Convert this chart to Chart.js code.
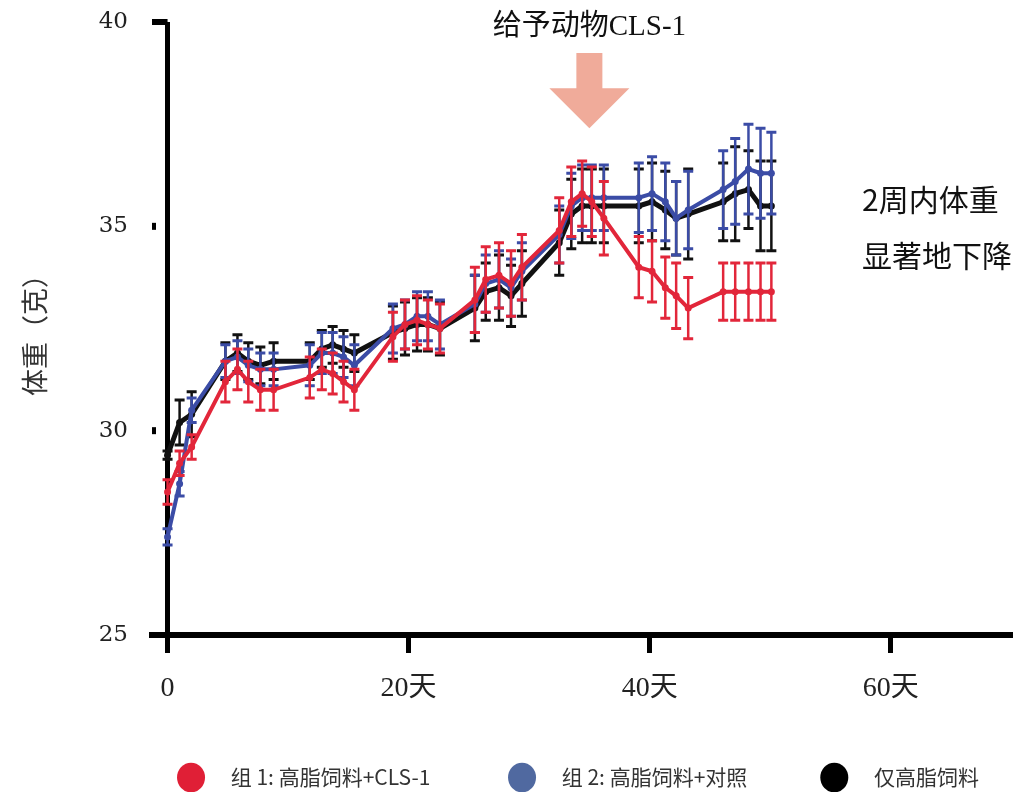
<!DOCTYPE html>
<html>
<head>
<meta charset="utf-8">
<script src="https://cdn.jsdelivr.net/npm/chart.js@4.4.0/dist/chart.umd.min.js"></script>
<style>
html, body { margin: 0; padding: 0; background: #fff; }
#wrap { width: 1015px; height: 792px; position: relative; }
</style>
</head>
<body>
<div id="wrap"><canvas id="chart"></canvas></div>
<script>
// values (days, mean weight in g, error bar half length)
const days = [0, 1, 2,
    4.8, 5.8, 6.7, 7.7, 8.8,
    11.8, 12.8, 13.7, 14.6, 15.5,
    18.7, 19.7, 20.7, 21.6, 22.6,
    25.5, 26.4, 27.5, 28.5, 29.4,
    32.5, 33.5, 34.4, 35.2, 36.2,
    39.1, 40.2, 41.3, 42.2, 43.2,
    46.1, 47.1, 48.2, 49.2, 50.1];

const grp1Weight = [28.5, 29.2, 29.6,
    31.2, 31.5, 31.2, 31.0, 31.0,
    31.3, 31.5, 31.4, 31.2, 31.0,
    32.3, 32.6, 32.7, 32.6, 32.5,
    33.2, 33.7, 33.8, 33.6, 34.0,
    34.9, 35.6, 35.8, 35.6, 35.2,
    34.0, 33.9, 33.5, 33.3, 33.0,
    33.4, 33.4, 33.4, 33.4, 33.4];
const grp1Err = [0.3, 0.3, 0.3,
    0.5, 0.5, 0.5, 0.5, 0.5,
    0.5, 0.5, 0.5, 0.5, 0.5,
    0.6, 0.6, 0.6, 0.6, 0.6,
    0.8, 0.8, 0.8, 0.8, 0.8,
    0.8, 0.85, 0.8, 0.85, 0.9,
    0.75, 0.75, 0.75, 0.8, 0.75,
    0.7, 0.7, 0.7, 0.7, 0.7];

const grp2Weight = [27.4, 28.7, 30.5,
    31.7, 31.8, 31.6, 31.5, 31.5,
    31.6, 31.9, 31.9, 31.8, 31.6,
    32.5, 32.6, 32.8, 32.8, 32.6,
    33.1, 33.6, 33.7, 33.5, 33.9,
    34.8, 35.5, 35.7, 35.7, 35.7,
    35.7, 35.8, 35.6, 35.2, 35.4,
    35.9, 36.1, 36.4, 36.3, 36.3];
const grp2Err = [0.2, 0.3, 0.3,
    0.4, 0.4, 0.4, 0.4, 0.4,
    0.5, 0.5, 0.5, 0.5, 0.5,
    0.6, 0.6, 0.6, 0.6, 0.6,
    0.7, 0.7, 0.7, 0.7, 0.7,
    0.7, 0.8, 0.8, 0.8, 0.8,
    0.85, 0.9, 0.95, 0.9, 0.95,
    0.95, 1.05, 1.1, 1.1, 1.0];

const hfdWeight = [29.4, 30.2, 30.4,
    31.7, 31.9, 31.7, 31.6, 31.7,
    31.7, 32.0, 32.1, 32.0, 31.9,
    32.4, 32.5, 32.6, 32.6, 32.5,
    33.0, 33.4, 33.5, 33.3, 33.6,
    34.6, 35.3, 35.5, 35.5, 35.5,
    35.5, 35.6, 35.4, 35.2, 35.3,
    35.6, 35.8, 35.9, 35.5, 35.5];
const hfdErr = [0.1, 0.55, 0.55,
    0.45, 0.45, 0.45, 0.45, 0.45,
    0.45, 0.45, 0.45, 0.45, 0.45,
    0.65, 0.65, 0.65, 0.65, 0.65,
    0.8, 0.7, 0.8, 0.75, 0.8,
    0.8, 0.85, 0.9, 0.9, 0.9,
    0.9, 0.95, 0.95, 0.9, 1.1,
    0.95, 1.15, 0.95, 1.1, 1.1];

const seriesNames = ['组 1: 高脂饲料+CLS-1', '组 2: 高脂饲料+对照', '仅高脂饲料'];
const xTicks = [0, 20, 40, 60];
const xTickLabels = ['0', '20天', '40天', '60天'];
const yTicks = [25, 30, 35, 40];
const yTickLabels = ['25', '30', '35', '40'];
const yTitle = '体重（克）';
const doseLabel = '给予动物CLS-1';
const doseDay = 35;
const noteLines = ['2周内体重', '显著地下降'];

const lineColors = ['#e2263a', '#3b4ca6', '#111111'];
const legendColors = ['#e01f36', '#5069a0', '#000000'];
// extra spacing around legend texts so the items spread like the original
const legendLead = '\u2002 ';
const legendTrail = ['\u2003\u2003\u2003 ', '\u2003\u2003\u2003', '\u2003'];

const toPoints = vals => vals.map((v, i) => ({ x: days[i], y: v }));

function makeSet(i, vals, errs) {
    return {
        label: seriesNames[i],
        data: toPoints(vals),
        errors: errs,
        borderColor: lineColors[i],
        backgroundColor: lineColors[i],
        borderWidth: i === 2 ? 5 : 4,
        pointRadius: 3.5,
        pointBackgroundColor: lineColors[i],
        pointBorderWidth: 0,
        tension: 0
    };
}

const errorBars = {
    id: 'errorBars',
    beforeDatasetDraw(chart, args) {
        const ds = chart.data.datasets[args.index];
        const ys = chart.scales.y;
        const ctx = chart.ctx;
        ctx.save();
        ctx.strokeStyle = ds.borderColor;
        args.meta.data.forEach((pt, i) => {
            const v = ds.data[i].y, e = ds.errors[i];
            const top = ys.getPixelForValue(v + e), bot = ys.getPixelForValue(v - e);
            ctx.lineWidth = 2.5;
            ctx.beginPath();
            ctx.moveTo(pt.x, top); ctx.lineTo(pt.x, bot);
            ctx.stroke();
            ctx.lineWidth = 3;
            ctx.beginPath();
            ctx.moveTo(pt.x - 5, top); ctx.lineTo(pt.x + 5, top);
            ctx.moveTo(pt.x - 5, bot); ctx.lineTo(pt.x + 5, bot);
            ctx.stroke();
        });
        ctx.restore();
    }
};

const decor = {
    id: 'decor',
    afterDraw(chart) {
        const ctx = chart.ctx, xs = chart.scales.x, ys = chart.scales.y;
        const left = chart.chartArea.left, x0 = xs.getPixelForValue(0);
        ctx.save();
        // y tick marks
        ctx.fillStyle = '#000';
        yTicks.forEach(v => {
            const y = ys.getPixelForValue(v);
            if (v === 40) ctx.fillRect(left, y - 3, x0 - left, 6);
            else if (v !== 25) ctx.fillRect(left, y - 3.5, 4, 7);
        });
        // arrow for the dosing day
        const ax = xs.getPixelForValue(doseDay);
        const aTop = ys.getPixelForValue(39.24), aMid = ys.getPixelForValue(38.38), aTip = ys.getPixelForValue(37.4);
        ctx.fillStyle = '#f0ab9a';
        ctx.beginPath();
        ctx.moveTo(ax - 13, aTop); ctx.lineTo(ax + 13, aTop); ctx.lineTo(ax + 13, aMid);
        ctx.lineTo(ax + 40, aMid); ctx.lineTo(ax, aTip); ctx.lineTo(ax - 40, aMid);
        ctx.lineTo(ax - 13, aMid); ctx.closePath();
        ctx.fill();
        // texts
        ctx.fillStyle = '#111';
        ctx.textBaseline = 'middle';
        ctx.textAlign = 'center';
        ctx.font = '29px "Liberation Serif", "Noto Sans CJK SC"';
        ctx.fillText(doseLabel, ax, 27);
        ctx.textAlign = 'left';
        ctx.font = '30px "Noto Sans CJK SC"';
        ctx.fillText(noteLines[0], 862, 200);
        ctx.fillText(noteLines[1], 862, 256);
        ctx.restore();
    }
};

new Chart(document.getElementById('chart'), {
    type: 'line',
    data: {
        datasets: [
            makeSet(0, grp1Weight, grp1Err),
            makeSet(1, grp2Weight, grp2Err),
            makeSet(2, hfdWeight, hfdErr)
        ]
    },
    options: {
        responsive: true,
        maintainAspectRatio: false,
        animation: false,
        layout: { padding: { top: 22, right: 5, bottom: -6, left: 0 } },
        plugins: {
            tooltip: { enabled: false },
            legend: {
                position: 'bottom',
                align: 'end',
                labels: {
                    usePointStyle: true,
                    pointStyleWidth: 28,
                    boxHeight: 21,
                    padding: 10,
                    color: '#333',
                    font: { family: '"Noto Sans CJK SC"', size: 21 },
                    generateLabels: chart => chart.data.datasets.map((ds, i) => ({
                        text: legendLead + ds.label + legendTrail[i],
                        fillStyle: legendColors[i],
                        strokeStyle: legendColors[i],
                        lineWidth: 0,
                        pointStyle: 'circle',
                        hidden: false,
                        datasetIndex: i,
                        fontColor: '#333'
                    }))
                }
            }
        },
        scales: {
            x: {
                type: 'linear',
                min: -1.29,
                max: 69.9,
                afterBuildTicks: s => { s.ticks = xTicks.map(v => ({ value: v })); },
                afterFit: s => { s.height = 122; },
                border: { display: true, color: '#000', width: 6 },
                grid: {
                    drawOnChartArea: true,
                    color: c => (c.tick && c.tick.value === 0) ? '#000' : 'rgba(0,0,0,0)',
                    lineWidth: 5,
                    tickColor: '#000',
                    tickWidth: 5,
                    tickLength: 18
                },
                ticks: {
                    padding: 19,
                    color: '#222',
                    font: { family: '"Liberation Serif", "Noto Sans CJK SC"', size: 28 },
                    callback: v => xTickLabels[xTicks.indexOf(v)]
                }
            },
            y: {
                min: 25,
                max: 40,
                afterBuildTicks: s => { s.ticks = yTicks.map(v => ({ value: v })); },
                afterFit: s => { s.width = 152; },
                border: { display: false },
                grid: {
                    display: true,
                    drawOnChartArea: false,
                    drawTicks: true,
                    tickLength: 24,
                    tickColor: 'rgba(0,0,0,0)'
                },
                ticks: {
                    padding: 0,
                    color: '#222',
                    font: { family: '"DejaVu Serif"', size: 23 },
                    callback: v => yTickLabels[yTicks.indexOf(v)]
                },
                title: {
                    display: true,
                    text: yTitle,
                    color: '#333',
                    padding: { top: 19, bottom: 0 },
                    font: { family: '"Noto Sans CJK SC"', size: 27 }
                }
            }
        }
    },
    plugins: [errorBars, decor]
});
</script>
</body>
</html>
